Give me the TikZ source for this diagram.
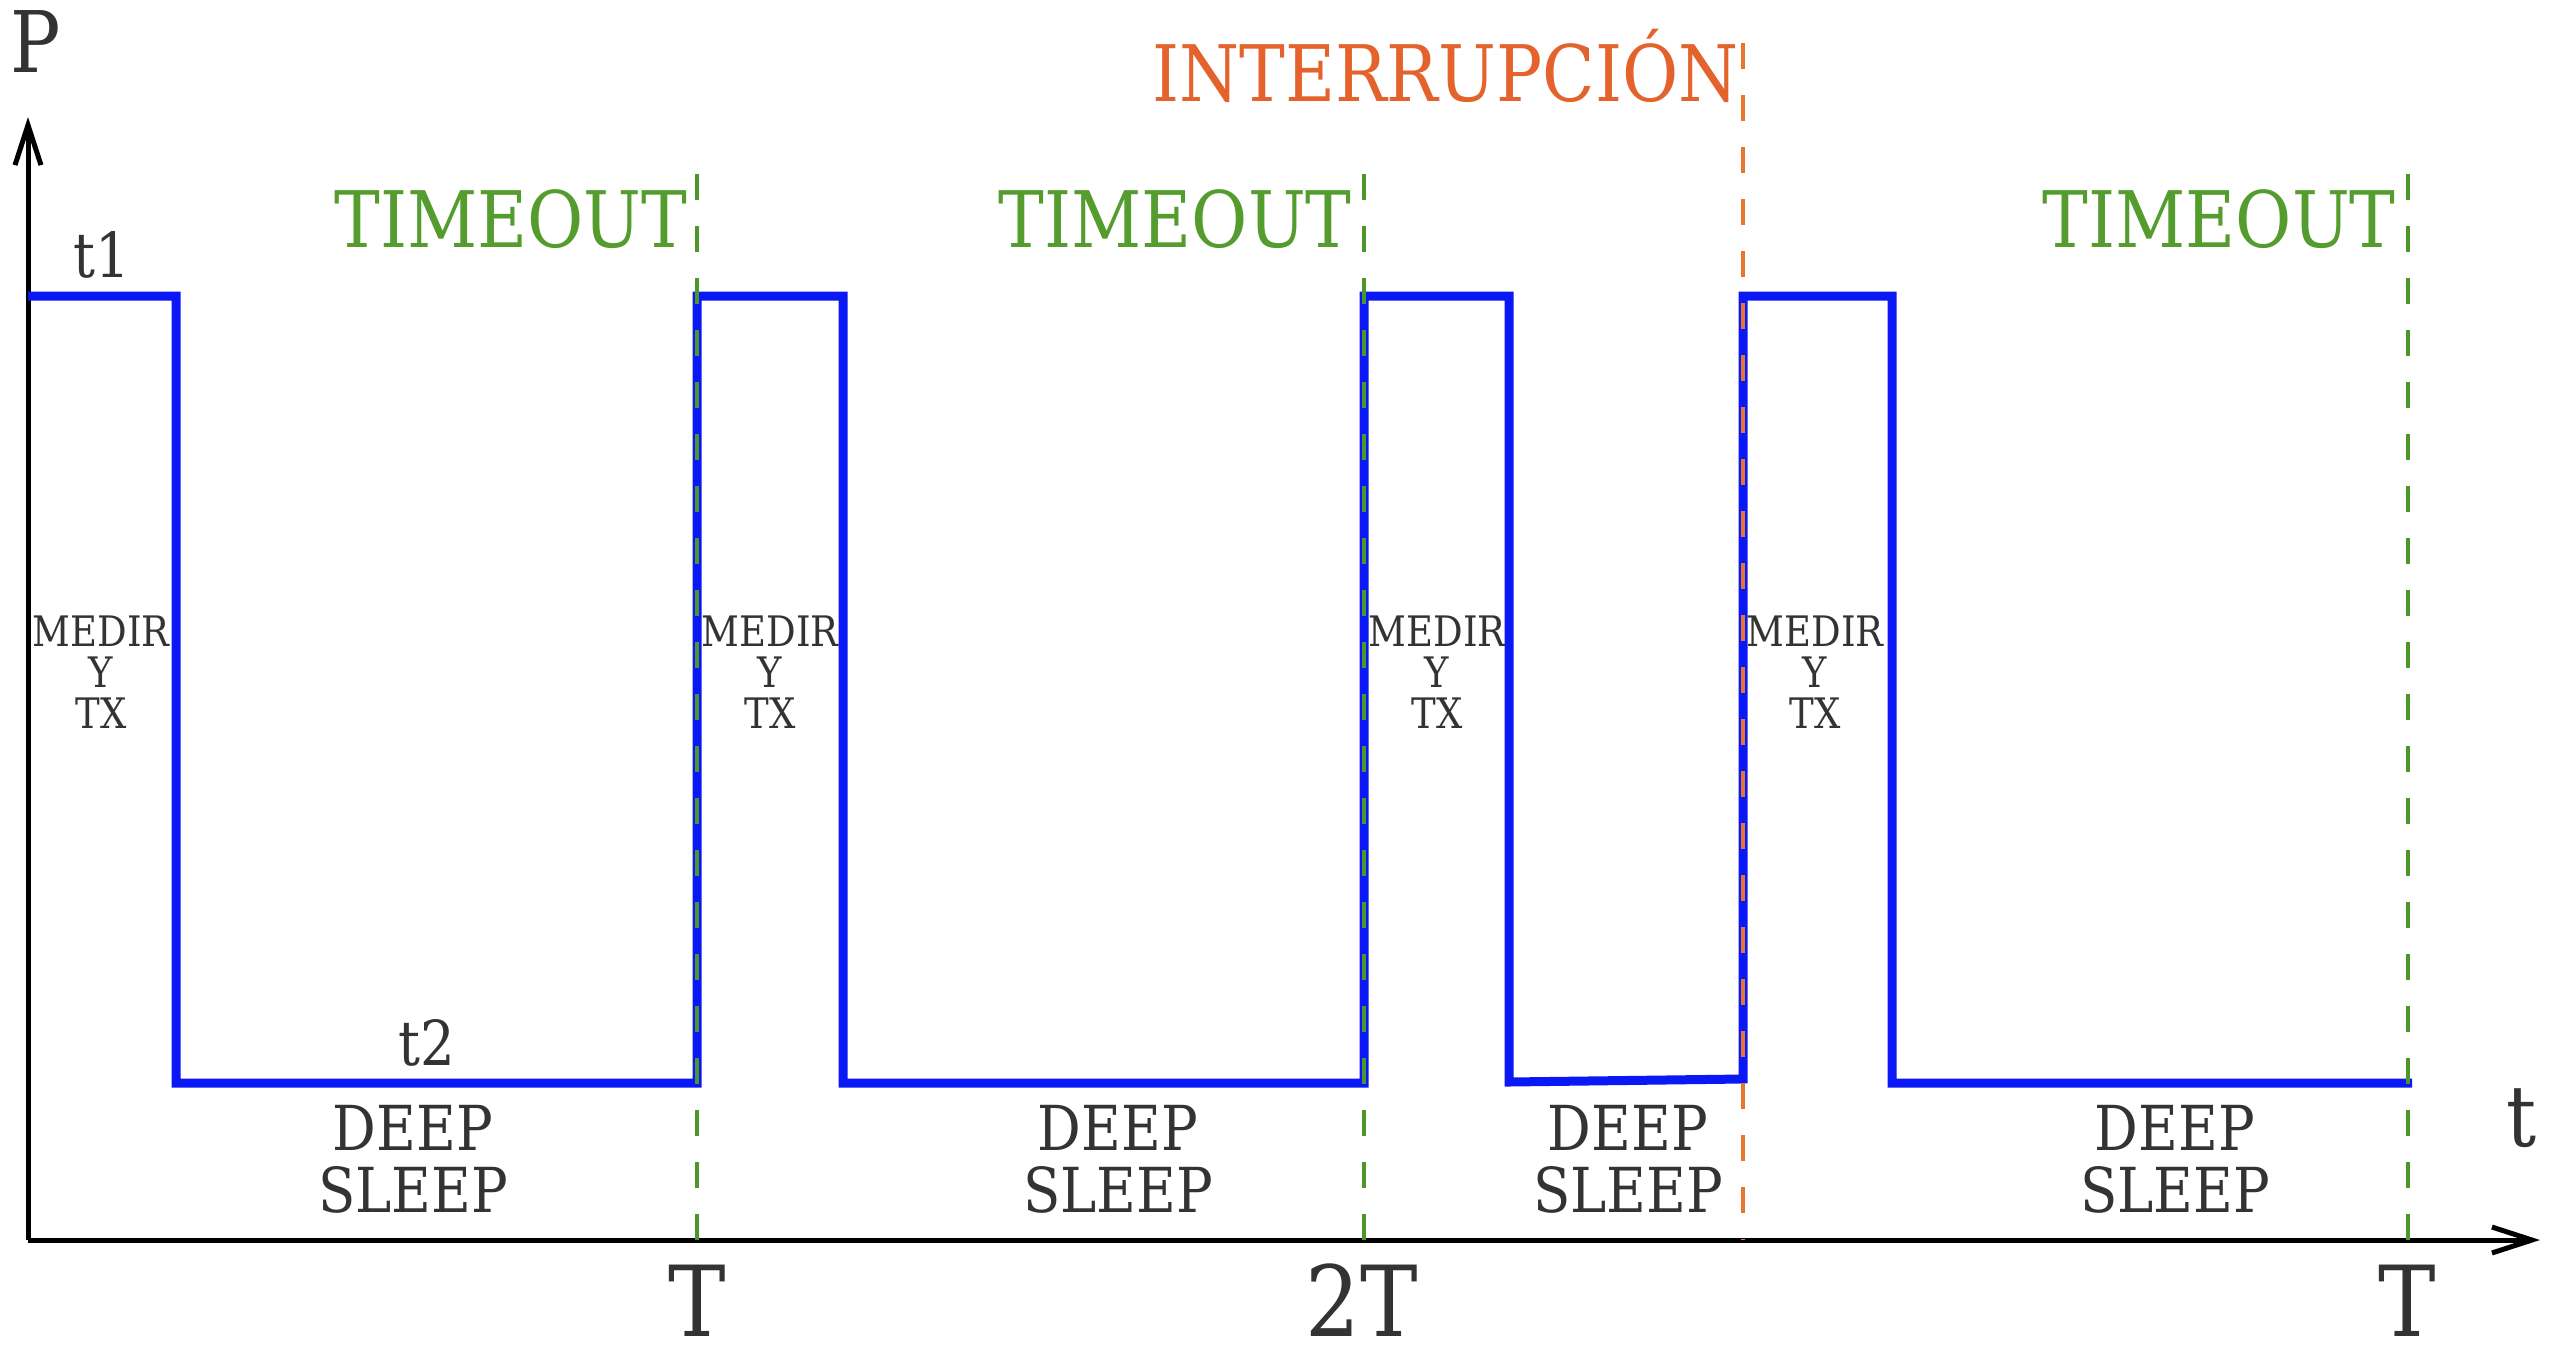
\documentclass[tikz,border=0pt]{standalone}
\usepackage{fontspec}
\setmainfont{DejaVu Serif}[FakeStretch=0.88]
\usetikzlibrary{arrows.meta}
\definecolor{wave}{RGB}{10,24,245}
\definecolor{tgreen}{RGB}{84,156,46}
\definecolor{dgreen}{RGB}{76,150,42}
\definecolor{torange}{RGB}{228,98,44}
\definecolor{dorange}{RGB}{234,118,46}
\definecolor{ink}{RGB}{51,51,51}
\begin{document}
\begin{tikzpicture}[x=0.5pt,y=-0.5pt,
  lbl/.style={inner sep=0pt, text=ink, anchor=base},
  fbig/.style={font=\fontsize{42.5}{50}\selectfont},
  faxis/.style={font=\fontsize{49}{58}\selectfont},
  ftag/.style={font=\fontsize{39}{46}\selectfont},
  fmid/.style={font=\fontsize{31}{37}\selectfont},
  fsmall/.style={font=\fontsize{21}{25}\selectfont},
  tagtimeout/.style={inner sep=0pt, text=tgreen, anchor=base east, ftag},
  tagint/.style={inner sep=0pt, text=torange, anchor=base east, ftag},
  axisline/.style={line width=2.5pt, draw=black, -{Straight Barb[length=20pt,width=13pt]}},
  waveline/.style={line width=4.5pt, draw=wave, line join=miter},
  gdash/.style={line width=2pt, draw=dgreen, dash pattern=on 13pt off 13pt},
  odash/.style={line width=2pt, draw=dorange, dash pattern=on 13pt off 13pt}
]
\useasboundingbox (0,0) rectangle (2554,1356);

% axes
\coordinate (O) at (28,1240);
\coordinate (ytip) at (28,117);
\coordinate (xtip) at (2540,1240);
\draw[axisline] (O) -- (ytip);
\draw[axisline] (O) -- (xtip);

% waveform
\coordinate (w0) at (28,296);
\coordinate (w1) at (176,296);
\coordinate (w2) at (176,1083);
\coordinate (w3) at (697,1083);
\coordinate (w4) at (697,296);
\coordinate (w5) at (843,296);
\coordinate (w6) at (843,1083);
\coordinate (w7) at (1364,1083);
\coordinate (w8) at (1364,296);
\coordinate (w9) at (1509,296);
\coordinate (w10) at (1509,1082);
\coordinate (w11) at (1743,1079);
\coordinate (w12) at (1743,296);
\coordinate (w13) at (1892,296);
\coordinate (w14) at (1892,1083);
\coordinate (w15) at (2412,1083);
\draw[waveline] (w0) -- (w1) -- (w2) -- (w3) -- (w4) -- (w5) -- (w6) -- (w7) -- (w8)
  -- (w9) -- (w10) -- (w11) -- (w12) -- (w13) -- (w14) -- (w15);

% dashed markers
\coordinate (g1t) at (697,174);  \coordinate (g1b) at (697,1240);
\coordinate (g2t) at (1364,174); \coordinate (g2b) at (1364,1240);
\coordinate (g3t) at (2408,174); \coordinate (g3b) at (2408,1240);
\coordinate (o1t) at (1743,43);  \coordinate (o1b) at (1743,1240);
\draw[gdash] (g1t) -- (g1b);
\draw[gdash] (g2t) -- (g2b);
\draw[gdash] (g3t) -- (g3b);
\draw[odash] (o1t) -- (o1b);

% axis labels
\node[lbl, fbig] (P) at (36,72) {P};
\node[lbl, fbig, anchor=base west] (tax) at (2506,1146) {t};
\node[lbl, faxis] (T1) at (697,1336) {T};
\node[lbl, faxis] (T2) at (1362,1336) {2T};
\node[lbl, faxis] (T3) at (2407,1336) {T};

% tags
\node[tagtimeout] (to1) at (688,247) {TIMEOUT};
\node[tagtimeout] (to2) at (1352,247) {TIMEOUT};
\node[tagtimeout] (to3) at (2396,247) {TIMEOUT};
\node[tagint] (int) at (1739,101) {INTERRUPCIÓN};

% levels
\node[lbl, fmid] (t1) at (102,277) {t1};
\node[lbl, fmid] (t2) at (427,1065) {t2};

% MEDIR Y TX
\foreach \cx/\nm in {101/a, 770/b, 1437/c, 1815/d} {
  \node[lbl, fsmall] (m\nm1) at (\cx,646) {MEDIR};
  \node[lbl, fsmall] (m\nm2) at (\cx,687) {Y};
  \node[lbl, fsmall] (m\nm3) at (\cx,728) {TX};
}

% DEEP SLEEP
\foreach \cx/\nm in {413/a, 1118/b, 1628/c, 2175/d} {
  \node[lbl, fmid] (d\nm1) at (\cx,1150) {DEEP};
  \node[lbl, fmid] (d\nm2) at (\cx,1212) {SLEEP};
}
\end{tikzpicture}
\end{document}
